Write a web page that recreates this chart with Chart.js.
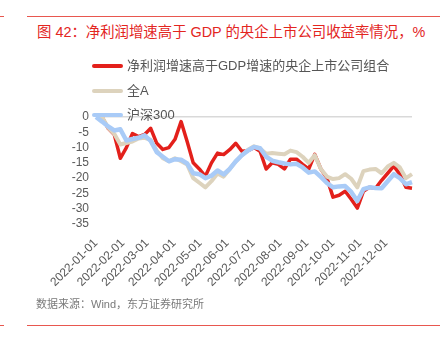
<!DOCTYPE html>
<html>
<head>
<meta charset="utf-8">
<script src="https://cdn.jsdelivr.net/npm/chart.js@4/dist/chart.umd.min.js"></script>
<style>
  body { margin: 0; background: #fff; font-family: "Liberation Sans", "Noto Sans CJK SC", sans-serif; }
  #wrap { position: relative; width: 442px; height: 340px; overflow: hidden; }
  .rule { position: absolute; height: 1px; background: #e8574f; }
  #title { position: absolute; left: 37px; top: 20px; font-size: 14.4px; color: #e3261f; white-space: nowrap; font-family: "Liberation Sans", "Noto Sans CJK SC", sans-serif; }
  #source { position: absolute; left: 36px; top: 295px; font-size: 11px; color: #7a7a7a; white-space: nowrap; font-family: "Liberation Sans", "Noto Sans CJK SC", sans-serif; }
  .leg { position: absolute; left: 92px; height: 18px; font-size: 13px; color: #555; white-space: nowrap; font-family: "Liberation Sans", "Noto Sans CJK SC", sans-serif; }
  .leg i { display: inline-block; width: 31px; height: 4px; border-radius: 2px; vertical-align: middle; margin-right: 4px; position: relative; top: -1px; }
  canvas { position: absolute; left: 0; top: 0; }
</style>
</head>
<body>
<div id="wrap">
  <div class="rule" style="left:0;width:4px;top:16px"></div>
  <div class="rule" style="left:27px;width:413px;top:16px"></div>
  <div id="title">图 42：净利润增速高于 GDP 的央企上市公司收益率情况，%</div>
  <canvas id="myChart" width="442" height="340"></canvas>
  <div class="leg" style="top:55px"><i style="background:#e3201b"></i>净利润增速高于GDP增速的央企上市公司组合</div>
  <div class="leg" style="top:80px"><i style="background:#ddd3bd"></i>全A</div>
  <div class="leg" style="top:104px"><i style="background:#a9cbf7"></i>沪深300</div>
  <div id="source">数据来源：Wind，东方证券研究所</div>
  <div class="rule" style="left:0;width:4px;top:325px"></div>
  <div class="rule" style="left:27px;width:413px;top:325px"></div>
</div>
<script>
const seriesNames = ['净利润增速高于GDP增速的央企上市公司组合', '全A', '沪深300'];

// weekly values, 2022
const soe = [0, 0, -3.7, -5.7, -13.5, -10, -5.4, -6.4, -5.7, -3.7,
    -8.6, -10.6, -10, -7.3, -1.5, -8, -15, -17, -19.4, -15,
    -11.8, -12.3, -10.7, -8.6, -11.2, -11, -10, -11.2, -17, -15,
    -15.5, -17, -13.8, -13.8, -15.5, -17, -12.2, -17, -20, -26.2,
    -25.6, -24.3, -26.9, -29.8, -24.3, -23, -23.3, -20.7, -18.4, -16.1,
    -18.7, -23, -23.3];
const allA = [0, 0, -3.5, -5.5, -9, -8.5, -8, -7, -6.8, -7.5,
    -11, -13.5, -14.5, -13.5, -14.5, -15.5, -20, -21.5, -23, -21,
    -18.5, -19.5, -17, -14.5, -12.5, -10.7, -9.6, -10.3, -12, -11.8,
    -12, -12.2, -11, -11.5, -13, -15, -12.5, -17, -19.5, -20.3,
    -20, -18.7, -20.2, -23, -17.7, -17.2, -17, -18.4, -16.2, -15,
    -16.5, -20, -18.7];
const hs300 = [0, -1.5, -3.1, -4.4, -4, -7.7, -7.2, -6.8, -6, -7.8,
    -11.5, -13, -14.5, -13.8, -14, -15.2, -18.4, -18.7, -20, -19.2,
    -17.5, -18.8, -17, -14.5, -12.5, -11, -9.8, -10.2, -13, -14.3,
    -14.8, -15.2, -15.5, -15.3, -16.5, -18.2, -17.8, -19.6, -21.6, -23,
    -22.7, -22.6, -24.5, -27.5, -23.6, -23, -23.2, -23.3, -21, -18.7,
    -20, -22, -21.3];

const monthLabels = ['2022-01-01', '2022-02-01', '2022-03-01', '2022-04-01', '2022-05-01', '2022-06-01',
    '2022-07-01', '2022-08-01', '2022-09-01', '2022-10-01', '2022-11-01', '2022-12-01'];
const yTicks = [0, -5, -10, -15, -20, -25, -30, -35];

// month start positions in weeks from 2022-01-01
const start = new Date(2022, 0, 1);
const monthPos = monthLabels.map(s => (new Date(s + 'T00:00:00') - start) / 86400000 / 7);

const toPts = arr => arr.map((v, i) => ({ x: i, y: v }));

const data = {
    datasets: [
        { label: seriesNames[0], data: toPts(soe), borderColor: '#e3201b', borderWidth: 3.5, order: 2 },
        { label: seriesNames[1], data: toPts(allA), borderColor: '#ddd3bd', borderWidth: 4, order: 1 },
        { label: seriesNames[2], data: toPts(hs300), borderColor: '#a9cbf7', borderWidth: 4.5, order: 0 },
    ]
};

const config = {
    type: 'line',
    data: data,
    options: {
        responsive: false,
        animation: false,
        clip: false,
        elements: {
            point: { radius: 0 },
            line: { tension: 0, borderJoinStyle: 'round' }
        },
        layout: {
            padding: { left: 0, top: 117, right: 30, bottom: 47 }
        },
        plugins: {
            legend: { display: false },
            tooltip: { enabled: false }
        },
        scales: {
            x: {
                type: 'linear',
                min: 0,
                max: 52,
                afterFit: (s) => { s.height = 69; },
                afterBuildTicks: (s) => { s.ticks = monthPos.map(v => ({ value: v })); },
                grid: { display: false },
                border: { display: false },
                ticks: {
                    minRotation: 45,
                    maxRotation: 45,
                    autoSkip: false,
                    padding: 4,
                    color: '#595959',
                    font: { size: 12, family: 'Liberation Sans' },
                    callback: (v, i) => monthLabels[i]
                }
            },
            y: {
                min: -35,
                max: 0,
                afterFit: (s) => { s.width = 96; },
                afterBuildTicks: (s) => { s.ticks = yTicks.map(v => ({ value: v })); },
                border: { display: false },
                grid: {
                    drawTicks: false,
                    color: (ctx) => ctx.tick && ctx.tick.value === 0 ? '#d9d9d9' : 'rgba(0,0,0,0)',
                    lineWidth: 1.5
                },
                ticks: {
                    autoSkip: false,
                    padding: 7,
                    color: '#595959',
                    font: { size: 12, family: 'Liberation Sans' }
                }
            }
        }
    }
};

const myChart = new Chart(
    document.getElementById('myChart'),
    config
);
</script>
</body>
</html>
